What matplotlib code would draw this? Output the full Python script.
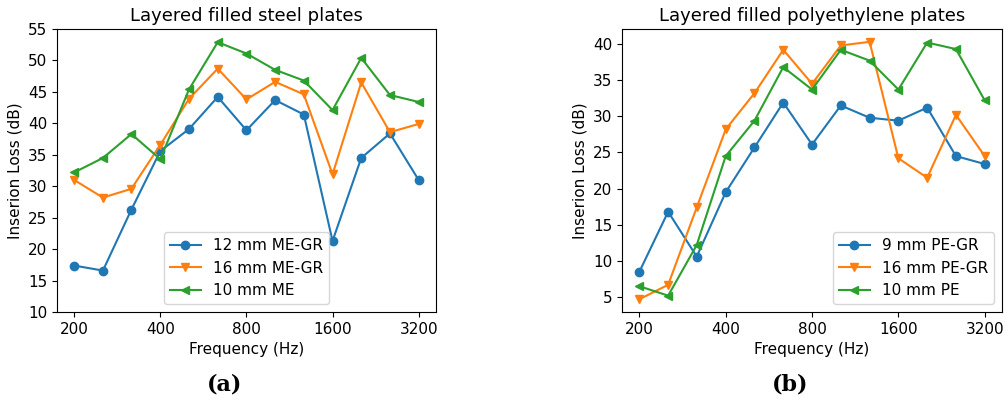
import matplotlib
matplotlib.use("Agg")
import matplotlib.pyplot as plt

freqs = [200, 252, 317, 400, 504, 635, 800, 1008, 1270, 1600, 2016, 2540, 3200]
tick_vals = [200, 400, 800, 1600, 3200]
tick_labels = ["200", "400", "800", "1600", "3200"]

steel_12_megr = [17.4, 16.6, 26.3, 35.6, 39.1, 44.2, 38.9, 43.7, 41.4, 21.3, 34.5, 38.4, 31.0]
steel_16_megr = [31.0, 28.2, 29.6, 36.6, 43.9, 48.7, 43.8, 46.6, 44.6, 31.9, 46.5, 38.6, 39.9]
steel_10_me = [32.2, 34.5, 38.3, 34.3, 45.4, 52.9, 51.1, 48.5, 46.8, 42.1, 50.4, 44.5, 43.4]

pe_9_pegr = [8.5, 16.8, 10.6, 19.5, 25.7, 31.9, 26.1, 31.5, 29.8, 29.4, 31.2, 24.5, 23.4]
pe_16_pegr = [4.7, 6.7, 17.4, 28.2, 33.2, 39.2, 34.5, 39.8, 40.3, 24.2, 21.5, 30.2, 24.5]
pe_10_pe = [6.5, 5.2, 12.2, 24.5, 29.4, 36.8, 33.7, 39.2, 37.7, 33.7, 40.2, 39.3, 32.2]

fig = plt.figure(figsize=(10.05, 4.08), dpi=100)
ax1 = fig.add_axes([0.0567, 0.235, 0.377, 0.694])
ax2 = fig.add_axes([0.619, 0.235, 0.378, 0.694])

def style(ax, title, series, labels, loc):
    markers = ["o", "v", "<"]
    for s, l, m in zip(series, labels, markers):
        ax.plot(freqs, s, marker=m, markersize=6, linewidth=1.5, label=l)
    ax.set_xscale("log")
    ax.set_xticks(tick_vals)
    ax.set_xticklabels(tick_labels)
    ax.minorticks_off()
    ax.tick_params(labelsize=11)
    ax.set_title(title, fontsize=13)
    ax.set_xlabel("Frequency (Hz)", fontsize=11)
    ax.set_ylabel("Inserion Loss (dB)", fontsize=11)
    ax.legend(loc=loc, fontsize=11)

style(ax1, "Layered filled steel plates", [steel_12_megr, steel_16_megr, steel_10_me],
      ["12 mm ME-GR", "16 mm ME-GR", "10 mm ME"], "lower center")
ax1.set_ylim(10, 55)
style(ax2, "Layered filled polyethylene plates", [pe_9_pegr, pe_16_pegr, pe_10_pe],
      ["9 mm PE-GR", "16 mm PE-GR", "10 mm PE"], "lower right")

fig.text(225 / 1005, 1 - 385 / 408, "(a)", ha="center", va="center",
         fontsize=16, fontweight="bold", family="DejaVu Serif")
fig.text(790 / 1005, 1 - 385 / 408, "(b)", ha="center", va="center",
         fontsize=16, fontweight="bold", family="DejaVu Serif")

fig.savefig("out.png", dpi=100)
